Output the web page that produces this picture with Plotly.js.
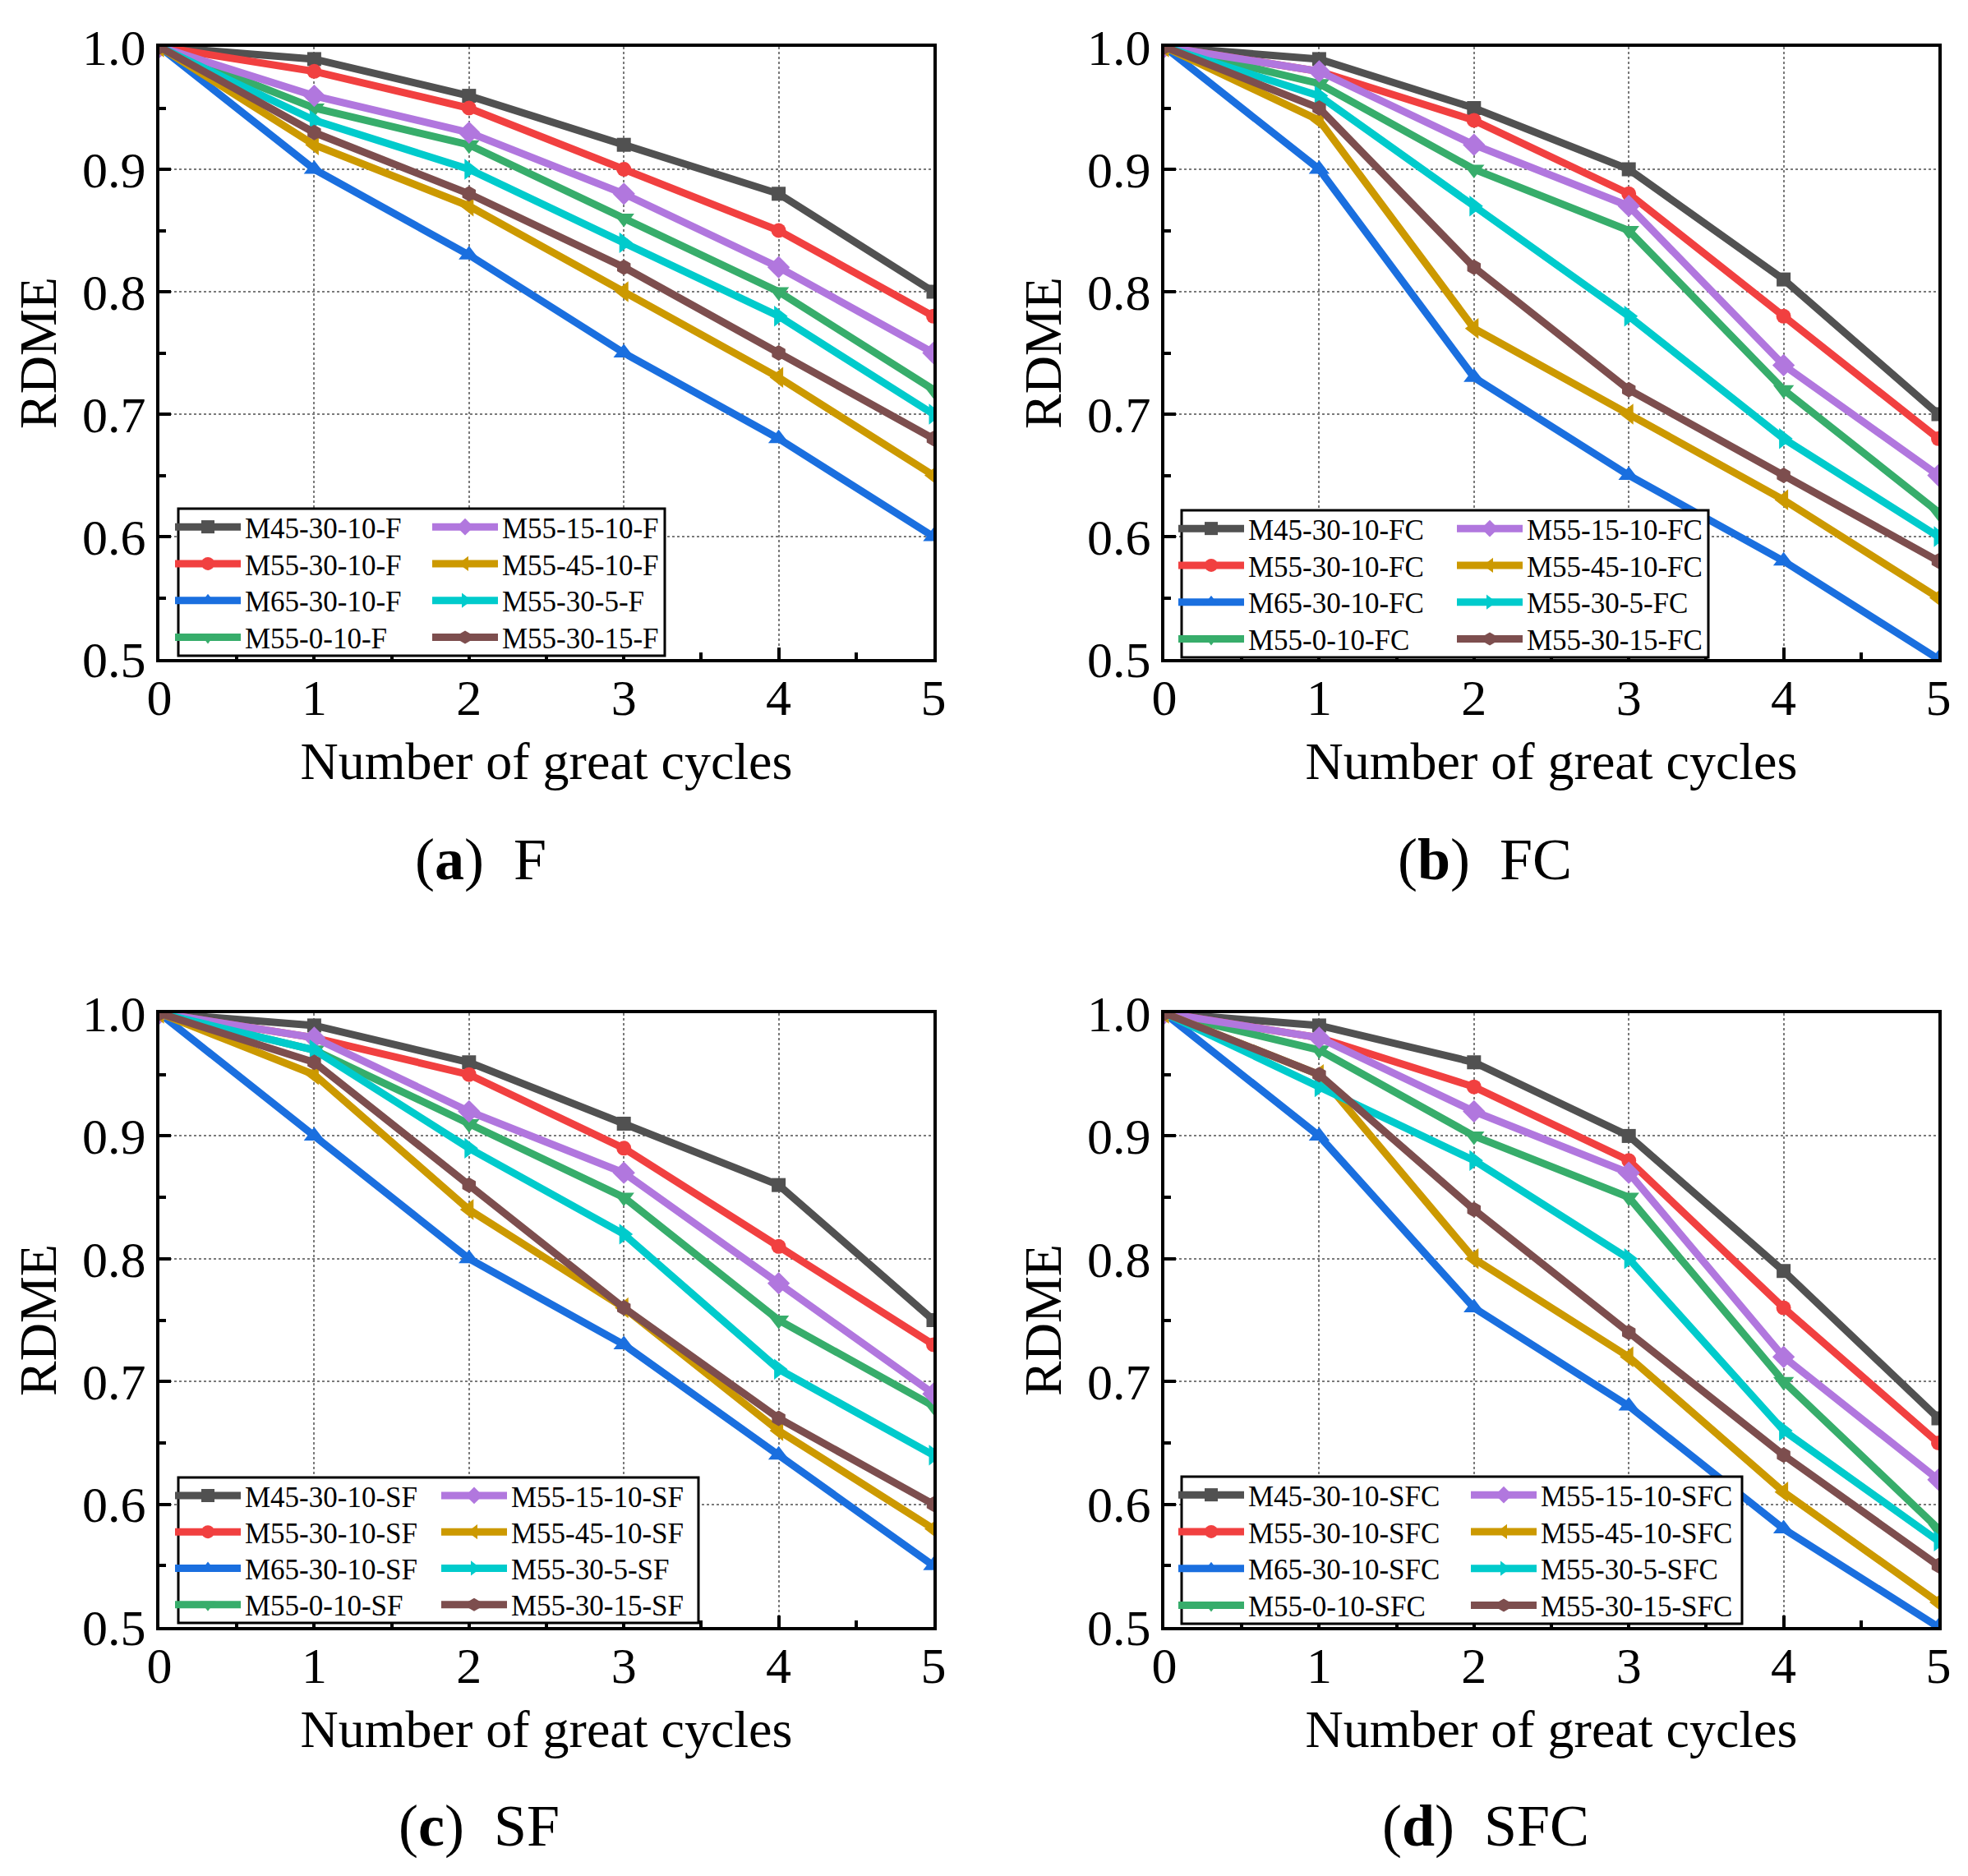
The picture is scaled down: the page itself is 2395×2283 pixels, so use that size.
<!DOCTYPE html>
<html>
<head>
<meta charset="utf-8">
<script src="https://cdn.plot.ly/plotly-3.0.1.min.js"></script>
<style>
  html, body { margin: 0; padding: 0; background: #fff; }
</style>
</head>
<body>
<div id="myDiv" style="width:2395px;height:2283px;"></div>
<script>
// x values: number of great cycles
var cycles = [0, 1, 2, 3, 4, 5];

// mix names, suffix added per panel
var mixes = ['M45-30-10', 'M55-30-10', 'M65-30-10', 'M55-0-10',
             'M55-15-10', 'M55-45-10', 'M55-30-5', 'M55-30-15'];
var groups = ['F', 'FC', 'SF', 'SFC'];
var panelLetters = ['a', 'b', 'c', 'd'];
var yTicks = [0.5, 0.6, 0.7, 0.8, 0.9, 1.0];
var xTicks = [0, 1, 2, 3, 4, 5];

// RDME, one row per mix (same order as mixes)
var rdmeF = [
	[1.0, 0.99, 0.96, 0.92, 0.88, 0.80],
	[1.0, 0.98, 0.95, 0.90, 0.85, 0.78],
	[1.0, 0.90, 0.83, 0.75, 0.68, 0.60],
	[1.0, 0.95, 0.92, 0.86, 0.80, 0.72],
	[1.0, 0.96, 0.93, 0.88, 0.82, 0.75],
	[1.0, 0.92, 0.87, 0.80, 0.73, 0.65],
	[1.0, 0.94, 0.90, 0.84, 0.78, 0.70],
	[1.0, 0.93, 0.88, 0.82, 0.75, 0.68]
];
var rdmeFC = [
	[1.0, 0.99, 0.95, 0.90, 0.81, 0.70],
	[1.0, 0.98, 0.94, 0.88, 0.78, 0.68],
	[1.0, 0.90, 0.73, 0.65, 0.58, 0.50],
	[1.0, 0.97, 0.90, 0.85, 0.72, 0.62],
	[1.0, 0.98, 0.92, 0.87, 0.74, 0.65],
	[1.0, 0.94, 0.77, 0.70, 0.63, 0.55],
	[1.0, 0.96, 0.87, 0.78, 0.68, 0.60],
	[1.0, 0.95, 0.82, 0.72, 0.65, 0.58]
];
var rdmeSF = [
	[1.0, 0.99, 0.96, 0.91, 0.86, 0.75],
	[1.0, 0.98, 0.95, 0.89, 0.81, 0.73],
	[1.0, 0.90, 0.80, 0.73, 0.64, 0.55],
	[1.0, 0.97, 0.91, 0.85, 0.75, 0.68],
	[1.0, 0.98, 0.92, 0.87, 0.78, 0.69],
	[1.0, 0.95, 0.84, 0.76, 0.66, 0.58],
	[1.0, 0.97, 0.89, 0.82, 0.71, 0.64],
	[1.0, 0.96, 0.86, 0.76, 0.67, 0.60]
];
var rdmeSFC = [
	[1.0, 0.99, 0.96, 0.90, 0.79, 0.67],
	[1.0, 0.98, 0.94, 0.88, 0.76, 0.65],
	[1.0, 0.90, 0.76, 0.68, 0.58, 0.50],
	[1.0, 0.97, 0.90, 0.85, 0.70, 0.58],
	[1.0, 0.98, 0.92, 0.87, 0.72, 0.62],
	[1.0, 0.95, 0.80, 0.72, 0.61, 0.52],
	[1.0, 0.94, 0.88, 0.80, 0.66, 0.57],
	[1.0, 0.95, 0.84, 0.74, 0.64, 0.55]
];
var panels = [rdmeF, rdmeFC, rdmeSF, rdmeSFC];

// styles
var colors = ['#515151', '#F14040', '#1A6FDF', '#37AD6B', '#B177DE', '#CC9900', '#00CBCC', '#7D4E4E'];
var symbols = ['square', 'circle', 'triangle-up', 'triangle-down', 'diamond', 'triangle-left', 'triangle-right', 'hexagon'];
var markerSizes = [17, 18, 22, 22, 21, 22, 22, 19];
var FONT = 'Liberation Serif, Times New Roman, serif';

var W = 2395, H = 2283;
var ITEM_W = 80;
// plot frames in pixels [left, right] / [top, bottom]
var colPx = [[194, 1136], [1417, 2359]];
var rowPx = [[57, 802], [1233, 1980]];
// legend box per panel: left, top, right, bottom, offset of 2nd column
var legendBoxes = [
	[217, 619, 809, 798, 310],
	[1438, 621, 2079, 800, 336],
	[217, 1798, 850, 1975, 321],
	[1438, 1797, 2120, 1976, 353]
];
var captionPx = [[585, 1046], [1807, 1046], [583, 2222], [1808, 2222]];

function px2x(v) { return v / W; }
function px2y(v) { return 1 - v / H; }

var data = [];
var layout = {
	width: W,
	height: H,
	margin: {l: 0, r: 0, t: 0, b: 0},
	paper_bgcolor: '#fff',
	plot_bgcolor: '#fff',
	font: {family: FONT, color: '#000'},
	showlegend: true,
	shapes: [],
	annotations: []
};

for (let p = 0; p < panels.length; p++) {
	var col = p % 2, row = Math.floor(p / 2);
	var suffix = p === 0 ? '' : String(p + 1);

	layout['xaxis' + suffix] = {
		domain: [px2x(colPx[col][0]), px2x(colPx[col][1])],
		anchor: 'y' + suffix,
		range: [0, 5],
		tickvals: xTicks,
		ticks: 'inside', ticklen: 14, tickwidth: 4, tickcolor: '#000',
		minor: {dtick: 0.5, ticks: 'inside', ticklen: 8, tickwidth: 4, tickcolor: '#000', showgrid: false},
		showline: true, linewidth: 4, linecolor: '#000', mirror: true,
		showgrid: true, gridcolor: '#7a7a7a', gridwidth: 2, griddash: 'dot',
		zeroline: false,
		ticklabelstandoff: -10,
		tickfont: {family: FONT, size: 62, color: '#000'},
		title: {text: 'Number of great cycles', font: {family: FONT, size: 64, color: '#000'}, standoff: 22}
	};
	layout['yaxis' + suffix] = {
		domain: [px2y(rowPx[row][1]), px2y(rowPx[row][0])],
		anchor: 'x' + suffix,
		range: [0.5, 1.0],
		tickvals: yTicks,
		tickformat: '.1f',
		ticks: 'inside', ticklen: 14, tickwidth: 4, tickcolor: '#000',
		minor: {dtick: 0.05, ticks: 'inside', ticklen: 8, tickwidth: 4, tickcolor: '#000', showgrid: false},
		showline: true, linewidth: 4, linecolor: '#000', mirror: true,
		showgrid: true, gridcolor: '#7a7a7a', gridwidth: 2, griddash: 'dot',
		zeroline: false,
		tickfont: {family: FONT, size: 62, color: '#000'},
		title: {text: 'RDME', font: {family: FONT, size: 64, color: '#000'}, standoff: 12}
	};

	// legend box behind the entries
	var box = legendBoxes[p];
	layout.shapes.push({
		type: 'rect', xref: 'paper', yref: 'paper', layer: 'above',
		x0: px2x(box[0]), x1: px2x(box[2]), y0: px2y(box[3]), y1: px2y(box[1]),
		fillcolor: '#fff', line: {color: '#000', width: 3}
	});

	// one horizontal legend per row: mix r and mix r+4
	var rowStep = (box[3] - box[1]) / 4;
	for (let r = 0; r < 4; r++) {
		var legName = 'legend' + (p * 4 + r === 0 ? '' : String(p * 4 + r + 1));
		layout[legName] = {
			orientation: 'h',
			x: px2x(box[0] - 9),
			y: px2y(box[1] + rowStep * (r + 0.5)),
			xanchor: 'left', yanchor: 'middle',
			entrywidth: box[4] - ITEM_W - 12, entrywidthmode: 'pixels',
			itemwidth: ITEM_W,
			bgcolor: 'rgba(0,0,0,0)', borderwidth: 0,
			font: {family: FONT, size: 35, color: '#000'},
			itemclick: false, itemdoubleclick: false
		};
	}

	for (let m = 0; m < mixes.length; m++) {
		var r2 = m % 4;
		data.push({
			x: cycles,
			y: panels[p][m],
			xaxis: 'x' + suffix,
			yaxis: 'y' + suffix,
			name: mixes[m] + '-' + groups[p],
			legend: 'legend' + (p * 4 + r2 === 0 ? '' : String(p * 4 + r2 + 1)),
			mode: 'lines+markers',
			type: 'scatter',
			line: {color: colors[m], width: 9},
			marker: {symbol: symbols[m], size: markerSizes[m], color: colors[m]},
			cliponaxis: true
		});
	}

	layout.annotations.push({
		xref: 'paper', yref: 'paper',
		x: px2x(captionPx[p][0]), y: px2y(captionPx[p][1]),
		xanchor: 'center', yanchor: 'middle',
		showarrow: false,
		text: '(<b>' + panelLetters[p] + '</b>)\u00a0\u00a0' + groups[p],
		font: {family: FONT, size: 72, color: '#000'}
	});
}

Plotly.newPlot('myDiv', data, layout, {staticPlot: true});
</script>
</body>
</html>
